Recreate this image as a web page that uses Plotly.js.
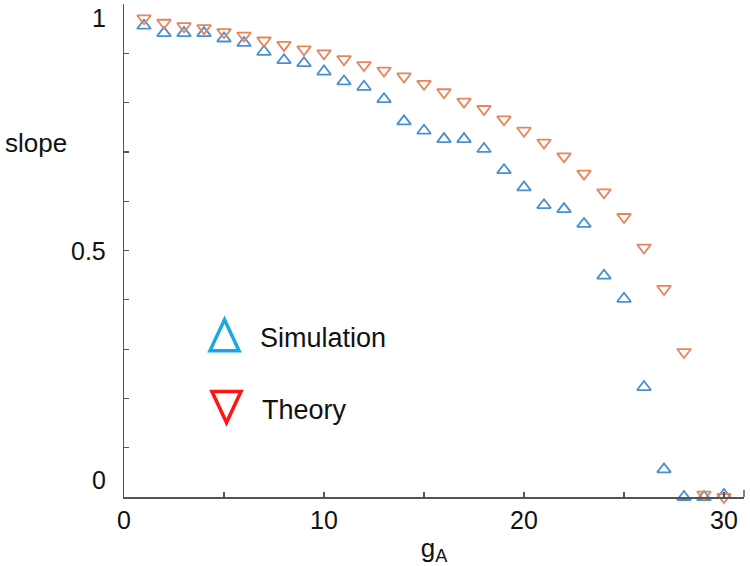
<!DOCTYPE html>
<html>
<head>
<meta charset="utf-8">
<script src="https://cdn.plot.ly/plotly-3.0.1.min.js"></script>
<style>html,body{margin:0;padding:0;background:#fff;}#chart{width:750px;height:566px;}</style>
</head>
<body>
<div id="chart"></div>
<script>
// ---- data ----
const gA = [1,2,3,4,5,6,7,8,9,10,11,12,13,14,15,16,17,18,19,20,21,22,23,24,25,26,27,28,29,30];
const simulation = [0.956,0.941,0.941,0.941,0.930,0.921,0.903,0.886,0.880,0.863,0.843,0.832,0.807,0.762,0.743,0.726,0.726,0.706,0.663,0.628,0.592,0.584,0.554,0.449,0.402,0.223,0.056,0.0,0.0,0.004];
const theory = [0.971,0.962,0.955,0.951,0.943,0.936,0.926,0.917,0.908,0.900,0.888,0.876,0.865,0.853,0.838,0.821,0.802,0.787,0.766,0.743,0.719,0.691,0.656,0.618,0.568,0.506,0.422,0.294,0.005,0.0];
const seriesNames = ["Simulation", "Theory"];
const xTickVals = [0, 10, 20, 30];
const xTickText = ["0", "10", "20", "30"];
const yTickLabels = ["0", "0.5", "1"];
const yTickLabelPos = [0.035, 0.5, 0.972];

const FONT = "Liberation Sans, Arial, Helvetica, sans-serif";
const AXIS_COLOR = "#555555";

const traces = [
  {
    x: gA, y: simulation, name: seriesNames[0], type: "scatter", mode: "markers",
    cliponaxis: false, showlegend: false,
    marker: {symbol: "triangle-up-open", size: 12, color: "#4a90d0", line: {width: 1.8, color: "#4a90d0"}}
  },
  {
    x: gA, y: theory, name: seriesNames[1], type: "scatter", mode: "markers",
    cliponaxis: false, showlegend: false,
    marker: {symbol: "triangle-down-open", size: 12, color: "#e8845c", line: {width: 1.8, color: "#e8845c"}}
  }
];

const annotations = [];
for (let i = 0; i < yTickLabels.length; i++) {
  annotations.push({
    xref: "paper", yref: "y", x: 0, y: yTickLabelPos[i], xanchor: "right", yanchor: "middle",
    xshift: -16, text: yTickLabels[i], showarrow: false, font: {family: FONT, size: 25, color: "#111"}
  });
}
annotations.push({xref: "paper", yref: "paper", x: -0.142, y: 0.718, xanchor: "center", yanchor: "middle",
  text: "slope", showarrow: false, font: {family: FONT, size: 26, color: "#111"}});
annotations.push({xref: "paper", yref: "paper", x: 0.216, y: 0.323, xanchor: "left", yanchor: "middle",
  text: seriesNames[0], showarrow: false, font: {family: FONT, size: 27, color: "#111"}});
annotations.push({xref: "paper", yref: "paper", x: 0.219, y: 0.177, xanchor: "left", yanchor: "middle",
  text: seriesNames[1], showarrow: false, font: {family: FONT, size: 27, color: "#111"}});

const shapes = [
  // legend glyphs
  {type: "path", xref: "paper", yref: "paper", path: "M 0.1621 0.3597 L 0.1387 0.2969 L 0.1855 0.2969 Z",
   line: {color: "#1ca7e0", width: 3.5}},
  {type: "path", xref: "paper", yref: "paper", path: "M 0.1419 0.2138 L 0.1887 0.2138 L 0.1653 0.1510 Z",
   line: {color: "#ff1414", width: 3.5}},
  // end tick at right of x axis
  {type: "line", xref: "paper", yref: "paper", x0: 1, x1: 1, y0: 0, y1: 0.014, line: {color: AXIS_COLOR, width: 1.5}}
];

const layout = {
  width: 750, height: 566,
  margin: {l: 124, r: 6, t: 4, b: 69},
  paper_bgcolor: "#ffffff", plot_bgcolor: "#ffffff",
  showlegend: false,
  font: {family: FONT, color: "#111"},
  xaxis: {
    range: [0, 31], showgrid: false, zeroline: false,
    showline: true, linecolor: AXIS_COLOR, linewidth: 1.5,
    tickvals: xTickVals, ticktext: xTickText,
    ticks: "inside", ticklen: 5, tickwidth: 1.2, tickcolor: AXIS_COLOR,
    minor: {dtick: 5, ticks: "inside", ticklen: 5, tickwidth: 1.2, tickcolor: AXIS_COLOR, showgrid: false},
    tickfont: {family: FONT, size: 25, color: "#111"},
    title: {text: "g<sub>A</sub>", font: {family: FONT, size: 26, color: "#111"}, standoff: 6}
  },
  yaxis: {
    range: [0, 1], showgrid: false, zeroline: false,
    showline: true, linecolor: AXIS_COLOR, linewidth: 1.5,
    dtick: 0.1, tick0: 0, ticks: "inside", ticklen: 5, tickwidth: 1.2, tickcolor: AXIS_COLOR,
    showticklabels: false
  },
  annotations: annotations,
  shapes: shapes
};

Plotly.newPlot("chart", traces, layout, {displayModeBar: false, staticPlot: true});
</script>
</body>
</html>
